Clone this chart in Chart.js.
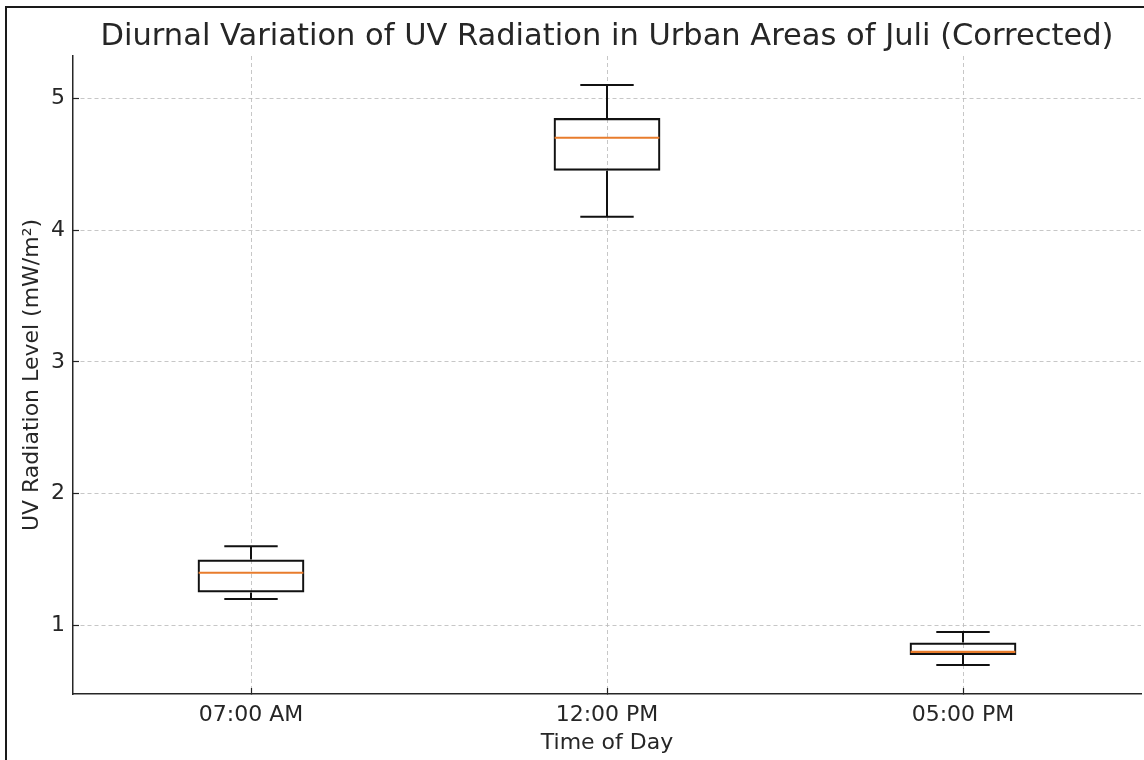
<!DOCTYPE html>
<html>
<head>
<meta charset="utf-8">
<script src="https://cdn.jsdelivr.net/npm/chart.js@4.4.1/dist/chart.umd.min.js"></script>
<style>
  html, body { margin: 0; padding: 0; background: #ffffff; }
  #wrap { position: relative; width: 1144px; height: 760px; }
  #frame { position: absolute; left: 5px; top: 6px; right: -10px; bottom: -10px;
           border-left: 2px solid #1a1a1a; border-top: 2px solid #1a1a1a; }
  canvas { position: absolute; left: 0; top: 0; }
</style>
</head>
<body>
<div id="wrap">
  <div id="frame"></div>
  <canvas id="c" width="1144" height="760"></canvas>
</div>
<script>
// ---- data ----
const categories = ['07:00 AM', '12:00 PM', '05:00 PM'];
const whiskerLow = [1.2, 4.1, 0.7];
const q1 = [1.25, 4.45, 0.775];
const median = [1.4, 4.7, 0.8];
const q3 = [1.5, 4.85, 0.87];
const whiskerHigh = [1.6, 5.1, 0.95];
const yTicks = [1, 2, 3, 4, 5];

const chartTitle = 'Diurnal Variation of UV Radiation in Urban Areas of Juli (Corrected)';
const xTitle = 'Time of Day';
const yTitle = 'UV Radiation Level (mW/m²)';

const FONT = 'DejaVu Sans';
const boxWidth = 0.3;   // fraction of category spacing
const capWidth = 0.15;

const boxData = categories.map((c, i) => [q1[i], q3[i]]);

// plugin: whiskers, caps and medians drawn through the chart's scales
const boxExtras = {
  id: 'boxExtras',
  afterDatasetsDraw(chart) {
    const { ctx, scales: { x, y } } = chart;
    const step = x.getPixelForValue(1) - x.getPixelForValue(0);
    ctx.save();
    categories.forEach((c, i) => {
      const cx = x.getPixelForValue(i);
      ctx.strokeStyle = '#111111';
      ctx.lineWidth = 2;
      ctx.lineCap = 'butt';
      ctx.beginPath();
      ctx.moveTo(cx, y.getPixelForValue(whiskerLow[i]));
      ctx.lineTo(cx, y.getPixelForValue(q1[i]));
      ctx.moveTo(cx, y.getPixelForValue(q3[i]));
      ctx.lineTo(cx, y.getPixelForValue(whiskerHigh[i]));
      const hw = capWidth * step / 2;
      ctx.moveTo(cx - hw, y.getPixelForValue(whiskerLow[i]));
      ctx.lineTo(cx + hw, y.getPixelForValue(whiskerLow[i]));
      ctx.moveTo(cx - hw, y.getPixelForValue(whiskerHigh[i]));
      ctx.lineTo(cx + hw, y.getPixelForValue(whiskerHigh[i]));
      ctx.stroke();
      const bw = boxWidth * step / 2;
      ctx.strokeStyle = '#e87c2c';
      ctx.lineWidth = 2.2;
      ctx.beginPath();
      ctx.moveTo(cx - bw + 1, y.getPixelForValue(median[i]));
      ctx.lineTo(cx + bw - 1, y.getPixelForValue(median[i]));
      ctx.stroke();
    });
    ctx.restore();
  }
};

const gridCommon = {
  color: 'rgba(185,185,185,0.8)',
  lineWidth: 1,
  tickColor: '#222222',
  tickBorderDash: [],
  tickLength: -6,
  tickWidth: 1.2,
  drawTicks: true
};
const borderCommon = { display: true, color: '#262626', width: 1.5, dash: [4, 3] };

new Chart(document.getElementById('c'), {
  type: 'bar',
  data: {
    labels: categories,
    datasets: [{
      label: 'IQR',
      data: boxData,
      backgroundColor: 'rgba(255,255,255,0)',
      borderColor: '#111111',
      borderWidth: 2.2,
      borderSkipped: false,
      categoryPercentage: 1,
      barPercentage: boxWidth,
      grouped: false
    }]
  },
  options: {
    responsive: false,
    animation: false,
    devicePixelRatio: 1,
    layout: { padding: { left: 0, right: 3, top: 0, bottom: 0 } },
    plugins: {
      legend: { display: false },
      tooltip: { enabled: false },
      title: {
        display: true,
        fullSize: false,
        text: chartTitle,
        color: '#262626',
        font: { family: FONT, size: 30.5, weight: 'normal' },
        padding: { top: 19, bottom: 0.4 }
      }
    },
    scales: {
      x: {
        offset: true,
        grid: Object.assign({}, gridCommon, { offset: false }),
        border: borderCommon,
        ticks: { color: '#262626', font: { family: FONT, size: 22 }, padding: 14, maxRotation: 0 },
        title: { display: true, text: xTitle, color: '#262626',
                 font: { family: FONT, size: 22 }, padding: { top: 0, bottom: 4 } },
        afterFit(scale) { scale.height = 66; }
      },
      y: {
        min: 0.48,
        max: 5.32,
        afterBuildTicks(scale) { scale.ticks = yTicks.map(v => ({ value: v })); },
        grid: gridCommon,
        border: borderCommon,
        ticks: { color: '#262626', font: { family: FONT, size: 22 }, padding: 14 },
        title: { display: true, text: yTitle, color: '#262626',
                 font: { family: FONT, size: 22 }, padding: { top: 19, bottom: 0 } },
        afterFit(scale) { scale.width = 73; }
      }
    }
  },
  plugins: [boxExtras]
});
</script>
</body>
</html>
